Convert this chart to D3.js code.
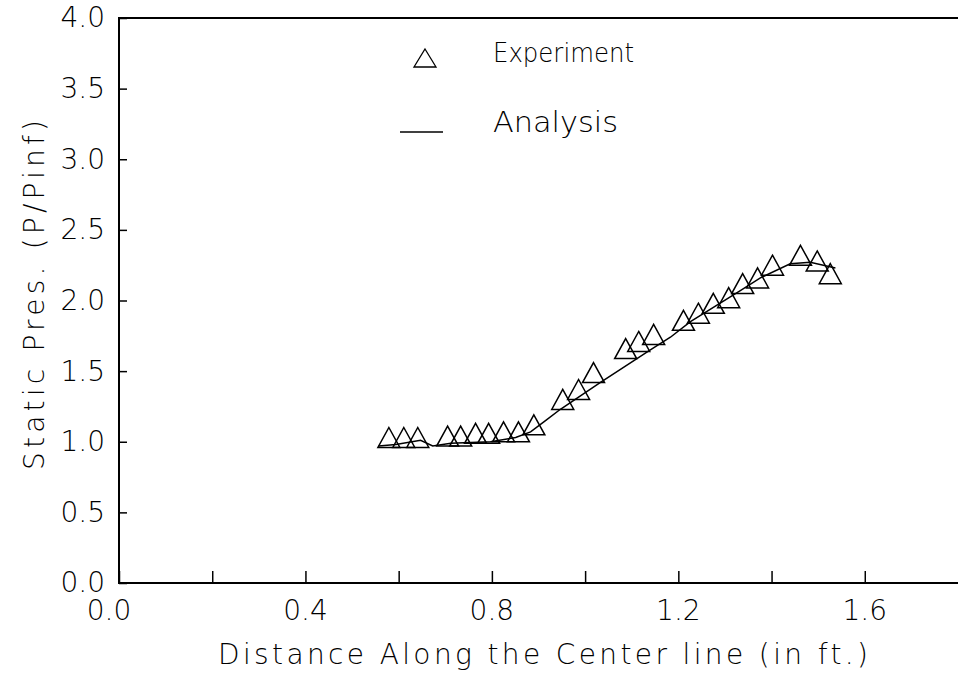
<!DOCTYPE html>
<html>
<head>
<meta charset="utf-8">
<script src="https://cdn.jsdelivr.net/npm/d3@7"></script>
<style>
  body { margin: 0; background: #fff; }
  svg text { font-family: "DejaVu Sans", sans-serif; font-weight: 200; fill: #000; }
</style>
</head>
<body>
<div id="main-chart"></div>
<script>
// experiment (triangles)
const expX = [0.579, 0.611, 0.641, 0.705, 0.733, 0.765, 0.793, 0.825, 0.857, 0.890,
  0.952, 0.986, 1.018, 1.087, 1.115, 1.147, 1.211, 1.243, 1.275, 1.308,
  1.338, 1.370, 1.402, 1.462, 1.498, 1.526];
const expY = [1.03, 1.03, 1.03, 1.04, 1.04, 1.06, 1.06, 1.07, 1.07, 1.12,
  1.30, 1.37, 1.49, 1.66, 1.71, 1.76, 1.86, 1.91, 1.98, 2.02,
  2.12, 2.16, 2.25, 2.32, 2.28, 2.19];

// analysis (solid line)
const anaX = [0.557, 0.594, 0.647, 0.673, 0.712, 0.797, 0.851, 0.883, 0.915, 0.947,
  1.033, 1.140, 1.183, 1.226, 1.333, 1.376, 1.440, 1.483, 1.537];
const anaY = [0.97, 0.98, 1.01, 0.97, 0.99, 1.00, 1.03, 1.07, 1.15, 1.23,
  1.42, 1.65, 1.74, 1.85, 2.07, 2.16, 2.26, 2.27, 2.23];

const xTicks = [0, 0.2, 0.4, 0.6, 0.8, 1.0, 1.2, 1.4, 1.6];
const xLabels = [0, 0.4, 0.8, 1.2, 1.6];
const yTicks = [0, 0.5, 1.0, 1.5, 2.0, 2.5, 3.0, 3.5, 4.0];

const width = 960;
const height = 680;
const margin = { top: 18, right: 2, bottom: 97, left: 119 };
const fs = 28;

const svg = d3.select("#main-chart")
  .append("svg")
  .attr("width", width)
  .attr("height", height);

const x = d3.scaleLinear()
  .domain([0, 1.8])
  .range([margin.left, width - margin.right]);

const y = d3.scaleLinear()
  .domain([0, 4])
  .range([height - margin.bottom, margin.top]);

// frame: left, bottom, top
svg.append("path")
  .attr("d", `M${x(1.8)},${y(4)}H${x(0)}V${y(0)}H${x(1.8)}`)
  .attr("fill", "none")
  .attr("stroke", "#000")
  .attr("stroke-width", 2);

// x axis, ticks inside
const xAxis = svg.append("g")
  .attr("transform", `translate(0,${y(0)})`)
  .call(d3.axisBottom(x).tickValues(xTicks).tickSizeInner(-12).tickSizeOuter(0).tickFormat(""));
xAxis.select(".domain").remove();
xAxis.selectAll("line").attr("stroke", "#000").attr("stroke-width", 1.5);

svg.append("g")
  .selectAll("text")
  .data(xLabels)
  .join("text")
  .attr("x", (d) => x(d) - (d === 0 ? 10 : 0))
  .attr("y", y(0) + 37)
  .attr("text-anchor", "middle")
  .attr("font-size", fs)
  .text((d) => d3.format(".1f")(d));

// y axis, ticks inside
const yAxis = svg.append("g")
  .attr("transform", `translate(${x(0)},0)`)
  .call(d3.axisLeft(y).tickValues(yTicks).tickSizeInner(-8).tickSizeOuter(0).tickPadding(14)
    .tickFormat(d3.format(".1f")));
yAxis.select(".domain").remove();
yAxis.selectAll("line").attr("stroke", "#000").attr("stroke-width", 1.5);
yAxis.selectAll("text")
  .attr("font-size", fs)
  .attr("font-family", "DejaVu Sans, sans-serif")
  .attr("font-weight", 200)
  .attr("fill", "#000");

// axis titles
svg.append("text")
  .attr("x", 218)
  .attr("y", 664)
  .attr("font-size", fs)
  .attr("textLength", 650)
  .text("Distance Along the Center line (in ft.)");

svg.append("text")
  .attr("transform", `translate(44,470) rotate(-90)`)
  .attr("font-size", fs)
  .attr("textLength", 350)
  .text("Static Pres. (P/Pinf)");

// analysis line
const anaData = anaX.map((d, i) => ({ x: d, y: anaY[i] }));
svg.append("path")
  .datum(anaData)
  .attr("fill", "none")
  .attr("stroke", "#000")
  .attr("stroke-width", 1.5)
  .attr("d", d3.line().x((d) => x(d.x)).y((d) => y(d.y)));

// experiment triangles
function tri(w, h) {
  return `M0,${-h / 2}L${w / 2},${h / 2}L${-w / 2},${h / 2}Z`;
}
const expData = expX.map((d, i) => ({ x: d, y: expY[i] }));
svg.append("g")
  .selectAll("path")
  .data(expData)
  .join("path")
  .attr("transform", (d) => `translate(${x(d.x)},${y(d.y)})`)
  .attr("d", tri(22, 20))
  .attr("fill", "none")
  .attr("stroke", "#000")
  .attr("stroke-width", 1.5);

// legend
const legend = svg.append("g");
legend.append("path")
  .attr("transform", "translate(425,58)")
  .attr("d", tri(22, 18))
  .attr("fill", "none")
  .attr("stroke", "#000")
  .attr("stroke-width", 1.3);
legend.append("text")
  .attr("x", 493)
  .attr("y", 62)
  .attr("font-size", 26)
  .attr("textLength", 141)
  .attr("lengthAdjust", "spacingAndGlyphs")
  .text("Experiment");
legend.append("line")
  .attr("x1", 400).attr("x2", 443)
  .attr("y1", 132).attr("y2", 132)
  .attr("stroke", "#000")
  .attr("stroke-width", 1.3);
legend.append("text")
  .attr("x", 493)
  .attr("y", 132)
  .attr("font-size", fs)
  .attr("textLength", 125)
  .attr("lengthAdjust", "spacingAndGlyphs")
  .text("Analysis");
</script>
</body>
</html>
